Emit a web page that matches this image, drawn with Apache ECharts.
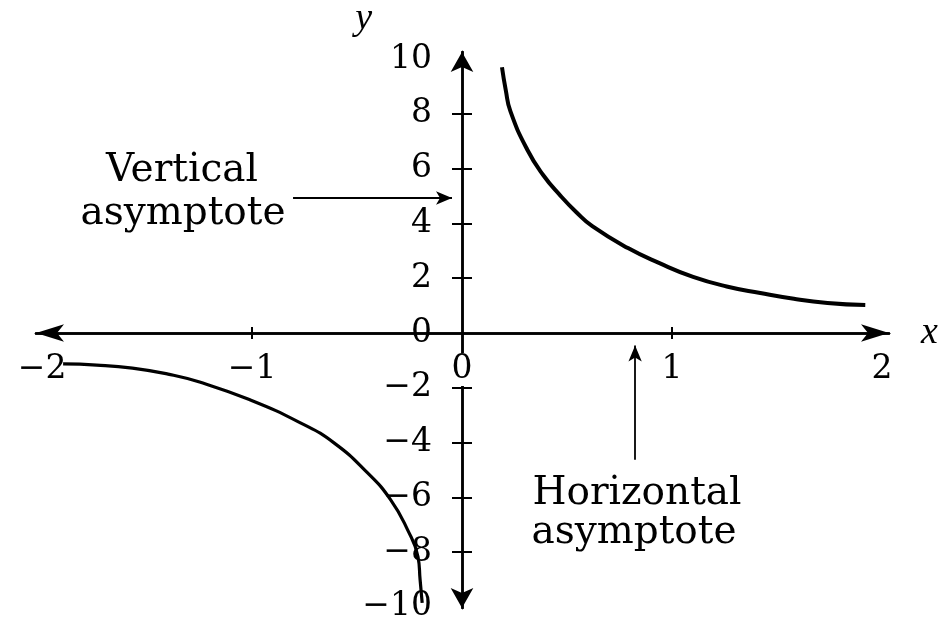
<!DOCTYPE html>
<html>
<head>
<meta charset="utf-8">
<script src="https://cdn.jsdelivr.net/npm/echarts@6/dist/echarts.min.js"></script>
<style>
  html, body {margin: 0; padding: 0; background: #fff;}
  #main {width: 948px; height: 624px;}
</style>
</head>
<body>
<div id="main"></div>
<script>
// values
const rightX = [0.19, 0.208, 0.23, 0.31, 0.386, 0.47, 0.543, 0.62, 0.79, 0.94, 1.1, 1.26, 1.42, 1.58, 1.74, 1.92];
const rightY = [9.7, 8.87, 8.1, 6.7, 5.77, 5.0, 4.42, 3.9, 3.1, 2.55, 2.05, 1.7, 1.46, 1.25, 1.1, 1.02];
const leftX = [-1.9, -1.74, -1.57, -1.4, -1.25, -1.01, -0.77, -0.61, -0.45, -0.34, -0.26, -0.21, -0.2, -0.19];
const leftY = [-1.13, -1.17, -1.28, -1.5, -1.79, -2.44, -3.28, -4.01, -5.11, -6.09, -7.18, -8.17, -9.0, -9.85];
const xLabels = [-2, -1, 0, 1, 2];
const xTicks = [-1, 1];
const yLabels = [-10, -8, -6, -4, -2, 0, 2, 4, 6, 8, 10];
const yTicks = [-8, -6, -4, -2, 2, 4, 6, 8];

const xMin = -2.029, xMax = 2.033;
const yMin = -10.04, yMax = 10.26;

// grid box, axes cross at (462, 333)
const G = {left: 36, right: 59, top: 52, bottom: 16};
const W = 948, H = 624;
const zeroX = 462, zeroY = 333;

const serif = 'DejaVu Serif';
const minus = v => (v < 0 ? '\u2212' + Math.abs(v) : String(v));

const chart = echarts.init(document.getElementById('main'));

const lineStyle = {color: '#000', width: 2.5};
const tickStyle = {color: '#000', width: 2};

chart.setOption({
  animation: false,
  grid: Object.assign({containLabel: false, outerBoundsMode: 'none'}, G),
  xAxis: [
    {
      type: 'value', min: xMin, max: xMax, position: 'bottom',
      offset: -(H - G.bottom - zeroY),
      name: 'x', nameLocation: 'end', nameGap: 32,
      nameTextStyle: {fontFamily: 'Liberation Serif', fontStyle: 'italic', fontSize: 38, color: '#000', verticalAlign: 'middle'},
      axisLine: {onZero: false, symbol: ['arrow', 'arrow'], symbolSize: [13, 28], lineStyle: lineStyle},
      axisTick: {customValues: xTicks, length: 6, lineStyle: tickStyle},
      axisLabel: {
        customValues: xLabels, margin: 20,
        fontFamily: serif, fontSize: 33, color: '#000',
        formatter: v => (v === 0 ? '{z|0}' : minus(v)),
        rich: {z: {fontFamily: serif, fontSize: 33, color: '#000', backgroundColor: '#fff', padding: [0, 2]}}
      },
      splitLine: {show: false}
    },
    {
      type: 'value', min: xMin, max: xMax, position: 'top',
      offset: -(zeroY - G.top),
      axisLine: {onZero: false, lineStyle: lineStyle},
      axisTick: {customValues: xTicks, length: 6, lineStyle: tickStyle},
      axisLabel: {show: false},
      splitLine: {show: false}
    }
  ],
  yAxis: [
    {
      type: 'value', min: yMin, max: yMax, position: 'left',
      offset: -(zeroX - G.left),
      name: 'y', nameLocation: 'end', nameGap: 14,
      nameTextStyle: {fontFamily: 'Liberation Serif', fontStyle: 'italic', fontSize: 38, color: '#000', align: 'right', padding: [0, 90, 0, 0]},
      axisLine: {onZero: false, symbol: ['arrow', 'arrow'], symbolSize: [17, 20], lineStyle: lineStyle},
      axisTick: {customValues: yTicks, length: 10, lineStyle: tickStyle},
      axisLabel: {
        customValues: yLabels, margin: 30,
        fontFamily: serif, fontSize: 33, color: '#000',
        formatter: minus
      },
      splitLine: {show: false}
    },
    {
      type: 'value', min: yMin, max: yMax, position: 'right',
      offset: -(W - G.right - zeroX),
      axisLine: {onZero: false, lineStyle: lineStyle},
      axisTick: {customValues: yTicks, length: 10, lineStyle: tickStyle},
      axisLabel: {show: false},
      splitLine: {show: false}
    }
  ],
  series: [
    {
      type: 'line', smooth: 0.5, showSymbol: false, silent: true,
      lineStyle: {color: '#000', width: 4},
      data: rightX.map((x, i) => [x, rightY[i]]),
      markLine: {
        silent: true, symbol: ['none', 'arrow'], symbolSize: [10, 16],
        label: {show: false},
        lineStyle: {color: '#000', width: 1.8, type: 'solid'},
        data: [
          [{coord: [-0.805, 4.93]}, {coord: [-0.048, 4.93]}],
          [{coord: [0.824, -4.63]}, {coord: [0.824, -0.46]}]
        ]
      }
    },
    {
      type: 'line', smooth: 0.5, showSymbol: false, silent: true,
      lineStyle: {color: '#000', width: 3.2},
      data: leftX.map((x, i) => [x, leftY[i]])
    }
  ],
  graphic: [
    {type: 'text', x: 182, y: 171, style: {text: 'Vertical', fontFamily: serif, fontSize: 39, fill: '#000', align: 'center', verticalAlign: 'middle'}},
    {type: 'text', x: 183, y: 214, style: {text: 'asymptote', fontFamily: serif, fontSize: 39, fill: '#000', align: 'center', verticalAlign: 'middle'}},
    {type: 'text', x: 637, y: 494, style: {text: 'Horizontal', fontFamily: serif, fontSize: 39, fill: '#000', align: 'center', verticalAlign: 'middle'}},
    {type: 'text', x: 634, y: 533, style: {text: 'asymptote', fontFamily: serif, fontSize: 39, fill: '#000', align: 'center', verticalAlign: 'middle'}}
  ]
});
</script>
</body>
</html>
